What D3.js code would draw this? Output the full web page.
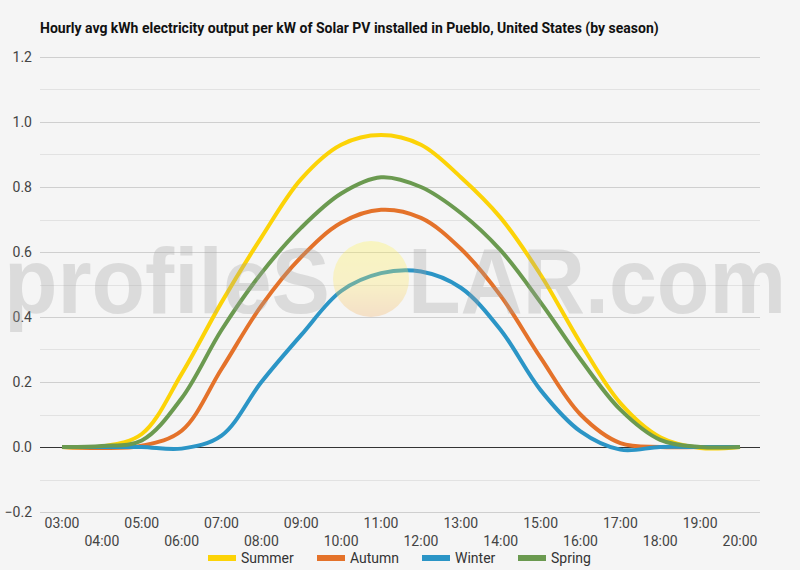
<!DOCTYPE html>
<html>
<head>
<meta charset="utf-8">
<script src="https://cdn.jsdelivr.net/npm/d3@7"></script>
<style>
  body { margin: 0; background: #f5f5f5; }
  text { font-family: Roboto, "Noto Sans", sans-serif; }
</style>
</head>
<body>
<div id="chart"></div>
<script>
// hours of the day shown on the x axis
var hours = ["03:00","04:00","05:00","06:00","07:00","08:00","09:00","10:00","11:00",
             "12:00","13:00","14:00","15:00","16:00","17:00","18:00","19:00","20:00"];

// hourly avg kWh per kW
var summer = [0, 0.002, 0.04, 0.225, 0.445, 0.645, 0.825, 0.93, 0.96, 0.93, 0.83, 0.705, 0.53, 0.32, 0.135, 0.03, -0.003, 0];
var autumn = [0, -0.003, 0.004, 0.05, 0.24, 0.435, 0.585, 0.69, 0.73, 0.705, 0.61, 0.465, 0.275, 0.10, 0.012, 0, 0, 0];
var winter = [0, 0, 0, -0.005, 0.035, 0.2, 0.345, 0.48, 0.535, 0.54, 0.49, 0.36, 0.175, 0.048, -0.008, 0, 0, 0];
var spring = [0, 0.003, 0.02, 0.15, 0.36, 0.535, 0.675, 0.78, 0.83, 0.80, 0.72, 0.605, 0.445, 0.27, 0.115, 0.022, 0, 0];

var yTicks = [-0.2, 0, 0.2, 0.4, 0.6, 0.8, 1.0, 1.2];

var series = [
  {name: "Summer", values: summer, color: "#fcd307"},
  {name: "Autumn", values: autumn, color: "#e4722a"},
  {name: "Winter", values: winter, color: "#2b95c6"},
  {name: "Spring", values: spring, color: "#6b9a50"}
];

var width = 800, height = 570;

var svg = d3.select("#chart").append("svg")
  .attr("width", width)
  .attr("height", height);

svg.append("rect")
  .attr("width", width)
  .attr("height", height)
  .attr("fill", "#f5f5f5");

// scales
var x = d3.scalePoint().domain(hours).range([62, 740]);
var y = d3.scaleLinear().domain([-0.2, 1.2]).range([512, 57]);

// gridlines every 0.1, labelled every 0.2
var grid = d3.range(-2, 13).map(function(i){ return i / 10; });
svg.append("g").selectAll("line")
  .data(grid)
  .enter().append("line")
  .attr("x1", 40).attr("x2", 760)
  .attr("y1", function(d){ return Math.round(y(d)) + 0.5; })
  .attr("y2", function(d){ return Math.round(y(d)) + 0.5; })
  .attr("stroke", function(d, i){ return i % 2 == 0 ? "#cfcfcf" : "#e2e2e2"; })
  .attr("stroke-width", 1);

// zero line
svg.append("line")
  .attr("x1", 40).attr("x2", 760)
  .attr("y1", Math.round(y(0)) + 0.5).attr("y2", Math.round(y(0)) + 0.5)
  .attr("stroke", "#333").attr("stroke-width", 1);

// y labels
svg.append("g").selectAll("text")
  .data(yTicks)
  .enter().append("text")
  .attr("x", 32)
  .attr("y", function(d){ return y(d) + 5; })
  .attr("text-anchor", "end")
  .attr("fill", "#444")
  .style("font-size", "14px")
  .text(function(d){ return d3.format(".1f")(d); });

// x labels, staggered in two rows
svg.append("g").selectAll("text")
  .data(hours)
  .enter().append("text")
  .attr("x", function(d){ return x(d); })
  .attr("y", function(d, i){ return i % 2 == 0 ? 528 : 546; })
  .attr("text-anchor", "middle")
  .attr("fill", "#444")
  .style("font-size", "14px")
  .text(function(d){ return d; });

// lines, smooth spline through the hourly points
var line = d3.line()
  .x(function(d, i){ return x(hours[i]); })
  .y(function(d){ return y(d); })
  .curve(d3.curveCatmullRom.alpha(0.5));

svg.append("g").selectAll("path")
  .data(series)
  .enter().append("path")
  .attr("d", function(d){ return line(d.values); })
  .attr("fill", "none")
  .attr("stroke", function(d){ return d.color; })
  .attr("stroke-width", 4)
  .attr("stroke-linejoin", "round");

// watermark, semi transparent over the lines
var wm = svg.append("g").attr("class", "watermark").attr("opacity", 0.3);
var grad = svg.append("defs").append("linearGradient")
  .attr("id", "sun").attr("x1", 0).attr("y1", 0).attr("x2", 0).attr("y2", 1);
grad.append("stop").attr("offset", "0%").attr("stop-color", "#fff54b");
grad.append("stop").attr("offset", "55%").attr("stop-color", "#ffe860");
grad.append("stop").attr("offset", "100%").attr("stop-color", "#f5b060");
wm.append("text")
  .attr("x", 4).attr("y", 313)
  .attr("textLength", 326).attr("lengthAdjust", "spacingAndGlyphs")
  .style("font-family", "'Liberation Sans', Arial, sans-serif")
  .style("font-weight", "bold").style("font-size", "92px")
  .attr("fill", "#a2a2a2")
  .text("profileS");
wm.append("circle")
  .attr("cx", 371).attr("cy", 279).attr("r", 38)
  .attr("fill", "url(#sun)");
wm.append("text")
  .attr("x", 408).attr("y", 313)
  .attr("textLength", 378).attr("lengthAdjust", "spacingAndGlyphs")
  .style("font-family", "'Liberation Sans', Arial, sans-serif")
  .style("font-weight", "bold").style("font-size", "92px")
  .attr("fill", "#a2a2a2")
  .text("LAR.com");

// title
svg.append("text")
  .attr("x", 40).attr("y", 33)
  .style("font-size", "14px")
  .style("font-weight", "bold")
  .attr("fill", "#111")
  .text("Hourly avg kWh electricity output per kW of Solar PV installed in Pueblo, United States (by season)");

// legend
var legendX = [208, 317, 422, 518];
var legend = svg.append("g").selectAll("g")
  .data(series)
  .enter().append("g")
  .attr("transform", function(d, i){ return "translate(" + legendX[i] + ",558)"; });
legend.append("rect")
  .attr("x", 0).attr("y", -3)
  .attr("width", 28).attr("height", 6)
  .attr("fill", function(d){ return d.color; });
legend.append("text")
  .attr("x", 33).attr("y", 5)
  .attr("fill", "#333")
  .style("font-size", "14px")
  .text(function(d){ return d.name; });
</script>
</body>
</html>
